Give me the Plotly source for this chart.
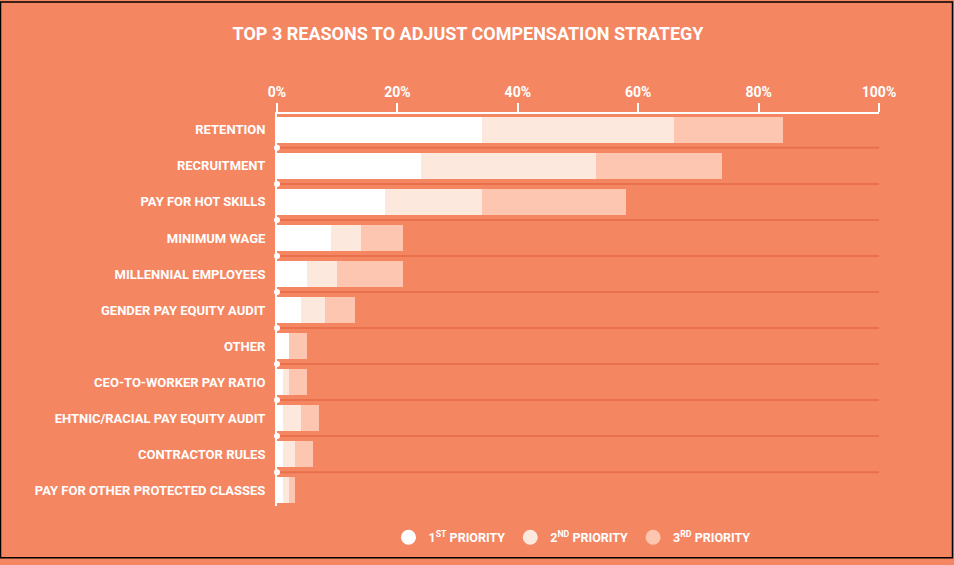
import plotly.graph_objects as go

categories = ["RETENTION", "RECRUITMENT", "PAY FOR HOT SKILLS", "MINIMUM WAGE",
              "MILLENNIAL EMPLOYEES", "GENDER PAY EQUITY AUDIT", "OTHER",
              "CEO-TO-WORKER PAY RATIO", "EHTNIC/RACIAL PAY EQUITY AUDIT",
              "CONTRACTOR RULES", "PAY FOR OTHER PROTECTED CLASSES"]
first_priority = [34, 24, 18, 9, 5, 4, 2, 1, 1, 1, 1]
second_priority = [32, 29, 16, 5, 5, 4, 0, 1, 3, 2, 1]
third_priority = [18, 21, 24, 7, 11, 5, 3, 3, 3, 3, 1]
series_names = ["1<sup>ST</sup> PRIORITY", "2<sup>ND</sup> PRIORITY", "3<sup>RD</sup> PRIORITY"]
x_ticks = [0, 20, 40, 60, 80, 100]
x_tick_labels = ["0%", "20%", "40%", "60%", "80%", "100%"]

BG = "#F58662"
COLORS = ["#FFFFFF", "#FDE8DE", "#FCC6B1"]
SEP = "#E8704C"
FONT = "Roboto"

W, H = 954, 565
ML, MR, MT, MB = 277, 75, 114, 54

ypos = list(range(len(categories)))
fig = go.Figure()
for vals, name, col in zip([first_priority, second_priority, third_priority], series_names, COLORS):
    fig.add_trace(go.Bar(y=ypos, x=vals, orientation="h", marker=dict(color=col, line=dict(width=0)),
                         width=0.71, name=name, showlegend=False, hoverinfo="x+name"))
    fig.add_trace(go.Scatter(x=[None], y=[None], mode="markers", name=name,
                             marker=dict(symbol="circle", size=15, color=col)))

sep_y = [i + 0.5 for i in ypos[:-1]]
for yv in sep_y:
    fig.add_shape(type="line", xref="x", yref="y", x0=0, x1=100, y0=yv, y1=yv,
                  line=dict(color=SEP, width=2), layer="below")
fig.add_trace(go.Scatter(x=[0] * len(sep_y), y=sep_y, mode="markers", showlegend=False,
                         marker=dict(color="white", size=6), cliponaxis=False, hoverinfo="skip"))

# outer border
pw, ph = W - ML - MR, H - MT - MB
fig.add_shape(type="rect", xref="paper", yref="paper",
              x0=-ML / pw + 0.5 / pw, x1=1 + (MR - 1.5) / pw,
              y0=-MB / ph + 1.5 / ph, y1=1 + (MT - 0.5) / ph,
              line=dict(color="black", width=1.5), layer="above")

fig.update_layout(
    width=W, height=H,
    paper_bgcolor=BG, plot_bgcolor=BG,
    margin=dict(l=ML, r=MR, t=MT, b=MB),
    barmode="stack", bargap=0,
    font=dict(family=FONT, color="white"),
    title=dict(text="<b>TOP 3 REASONS TO ADJUST COMPENSATION STRATEGY</b>",
               x=468 / W, xref="container", xanchor="center", y=1 - 34 / H, yanchor="middle",
               font=dict(family=FONT, size=18, color="white")),
    xaxis=dict(side="top", range=[0, 100], tickvals=x_ticks, ticktext=x_tick_labels,
               showgrid=False, zeroline=False, showline=True, linecolor="white", linewidth=2,
               ticks="outside", ticklen=9, tickwidth=1.5, tickcolor="white",
               tickfont=dict(family=FONT, size=14, color="white", weight="bold"), fixedrange=True),
    yaxis=dict(range=[10.44, -0.44], tickvals=ypos, ticktext=categories,
               showgrid=False, zeroline=False, showline=True, linecolor="white", linewidth=2,
               ticks="", ticklabelstandoff=7,
               tickfont=dict(family=FONT, size=13, color="white", weight="bold"), fixedrange=True),
    legend=dict(orientation="h", x=0.5 - 6 / pw, xanchor="center", y=-32 / ph, yanchor="middle",
                font=dict(family=FONT, size=12.5, color="white", weight="bold"),
                bgcolor="rgba(0,0,0,0)", itemwidth=30, traceorder="normal"),
)

fig.write_html("out.html", config={"displayModeBar": False},
               post_script="document.body.style.margin='0';")
